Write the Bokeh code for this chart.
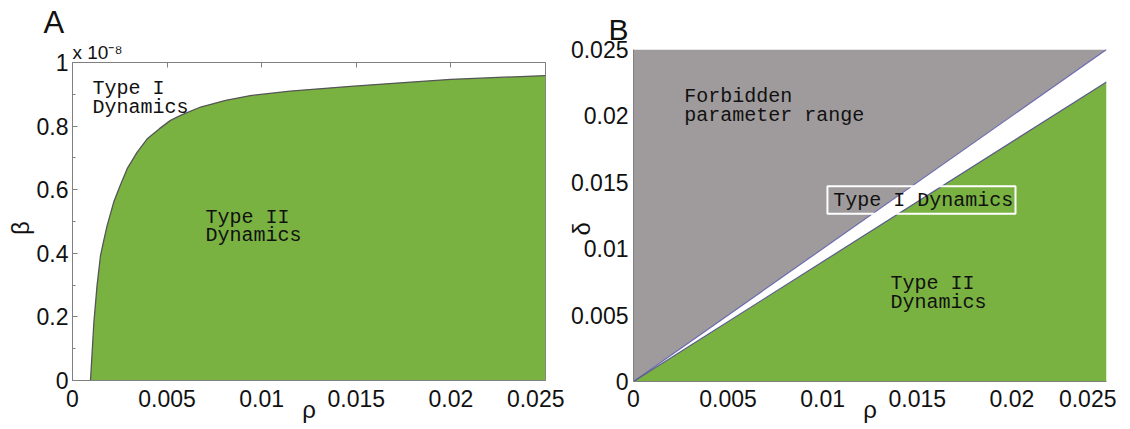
from bokeh.plotting import figure
from bokeh.layouts import row, column
from bokeh.models import (Range1d, FixedTicker, LinearAxis, Label, BoxAnnotation,
                          CustomJSTickFormatter, Title)
from bokeh.embed import file_html
from bokeh.resources import INLINE

# ---- data ----
rho_a = [0.00095, 0.00105, 0.00113, 0.0013, 0.00148, 0.00165, 0.00183, 0.00218, 0.0025,
         0.00289, 0.00342, 0.00395, 0.0046, 0.00518, 0.0058, 0.00677, 0.0081, 0.0094,
         0.0115, 0.0147, 0.0175, 0.0200, 0.0225, 0.025]
beta_a = [0.0, 0.10, 0.183, 0.30, 0.393, 0.44, 0.487, 0.561, 0.61,
          0.666, 0.718, 0.760, 0.792, 0.818, 0.836, 0.860, 0.881, 0.896,
          0.910, 0.925, 0.937, 0.947, 0.953, 0.959]
rho_ticks = [0, 0.005, 0.01, 0.015, 0.02, 0.025]
beta_ticks = [0, 0.2, 0.4, 0.6, 0.8, 1]
beta_minor = [0.1, 0.3, 0.5, 0.7, 0.9]
delta_ticks = [0, 0.005, 0.01, 0.015, 0.02, 0.025]
rho_b = [0, 0.025]
delta_upper = [0, 0.025]      # forbidden boundary
delta_lower = [0, 0.02255]    # type I / type II boundary

RHO_MAX = 0.025
BETA_MAX = 1.0
DELTA_MAX = 0.025

GREEN = "#7ab242"
GREY = "#9f9b9c"
AXIS = "#808080"
TICK_FONT = "Liberation Sans"
MONO = "Liberation Mono"
NBSP = "\u00a0"

fmt_code = "return String(Number(tick.toPrecision(6)))"


def style_axis(ax, size="23px"):
    ax.major_label_text_font = TICK_FONT
    ax.major_label_text_font_size = size
    ax.major_label_text_color = "#111111"
    ax.axis_line_color = AXIS
    ax.major_tick_line_color = AXIS
    ax.minor_tick_line_color = AXIS
    ax.major_tick_out = 0
    ax.minor_tick_out = 0
    ax.major_tick_in = 0
    ax.minor_tick_in = 0
    ax.axis_label_text_font = TICK_FONT
    ax.axis_label_text_font_size = "24px"
    ax.axis_label_text_font_style = "normal"
    ax.axis_label_text_color = "#111111"


def lbl(p, x, y, text, font=MONO, size="20px", align="left", baseline="middle", color="#111111"):
    p.add_layout(Label(x=x, y=y, text=text, text_font=font, text_font_size=size,
                       text_align=align, text_baseline=baseline, text_color=color))


def title(text, size, offset, standoff):
    return Title(text=text, text_font=TICK_FONT, text_font_size=size, text_font_style="normal",
                 text_color="#111111", align="left", offset=offset, standoff=standoff)


# ---------------- Panel A ----------------
pA = figure(frame_width=473, frame_height=318, output_backend="svg", toolbar_location=None,
            title=None, x_range=Range1d(0, RHO_MAX), y_range=Range1d(0, BETA_MAX),
            min_border_left=72, min_border_right=19, min_border_top=62, min_border_bottom=45)
pA.xgrid.grid_line_color = None
pA.ygrid.grid_line_color = None
pA.outline_line_color = AXIS
pA.background_fill_color = "white"
pA.border_fill_color = "white"

pA.varea(x=rho_a, y1=0, y2=beta_a, fill_color=GREEN)
pA.line(rho_a, beta_a, line_color="#555555", line_width=1.3)

style_axis(pA.xaxis[0])
pA.xaxis[0].ticker = FixedTicker(ticks=rho_ticks)
pA.xaxis[0].formatter = CustomJSTickFormatter(code=fmt_code)
pA.xaxis[0].major_label_standoff = 9
pA.xaxis[0].axis_label = "ρ"
pA.xaxis[0].axis_label_standoff = -14

style_axis(pA.yaxis[0])
pA.yaxis[0].ticker = FixedTicker(ticks=beta_ticks, minor_ticks=beta_minor)
pA.yaxis[0].formatter = CustomJSTickFormatter(code=fmt_code)
pA.yaxis[0].major_tick_in = 5
pA.yaxis[0].minor_tick_in = 3
pA.yaxis[0].major_label_standoff = 4
pA.yaxis[0].axis_label = "β" + NBSP * 2
pA.yaxis[0].axis_label_standoff = 0

top = LinearAxis(ticker=FixedTicker(ticks=rho_ticks))
style_axis(top)
top.axis_line_color = None
top.major_tick_in = 5
top.major_label_text_color = None
top.major_label_text_font_size = "1px"
top.major_label_standoff = 0
pA.add_layout(top, "above")
pA.add_layout(title("x 10⁻⁸", "19px", 0, 0), "above")
pA.add_layout(title("A", "31px", -29, 0), "above")

lbl(pA, 0.00106, 0.918, "Type I")
lbl(pA, 0.00106, 0.858, "Dynamics")
lbl(pA, 0.00703, 0.513, "Type II")
lbl(pA, 0.00703, 0.456, "Dynamics")

# ---------------- Panel B ----------------
pB = figure(frame_width=473, frame_height=332, output_backend="svg", toolbar_location=None,
            title=None, x_range=Range1d(0, RHO_MAX), y_range=Range1d(0, DELTA_MAX),
            min_border_left=68, min_border_right=10, min_border_top=49, min_border_bottom=44)
pB.xgrid.grid_line_color = None
pB.ygrid.grid_line_color = None
pB.outline_line_color = None
pB.background_fill_color = "white"
pB.border_fill_color = "white"

pB.varea(x=rho_b, y1=delta_upper, y2=DELTA_MAX, fill_color=GREY)
pB.varea(x=rho_b, y1=0, y2=delta_lower, fill_color=GREEN)
pB.line(rho_b, delta_upper, line_color="#6c6cb0", line_width=1.2)
pB.line(rho_b, delta_lower, line_color="#5a5a8a", line_width=1.2)

style_axis(pB.xaxis[0])
pB.xaxis[0].ticker = FixedTicker(ticks=rho_ticks)
pB.xaxis[0].formatter = CustomJSTickFormatter(code=fmt_code)
pB.xaxis[0].major_label_standoff = 8
pB.xaxis[0].axis_label = "ρ"
pB.xaxis[0].axis_label_standoff = -14

style_axis(pB.yaxis[0])
pB.yaxis[0].ticker = FixedTicker(ticks=delta_ticks)
pB.yaxis[0].formatter = CustomJSTickFormatter(code=fmt_code)
pB.yaxis[0].major_label_standoff = 5
pB.yaxis[0].axis_label = "δ" + NBSP * 4
pB.yaxis[0].axis_label_standoff = -27

pB.add_layout(title("B", "30px", -25, 8), "above")

lbl(pB, 0.00268, 0.02148, "Forbidden")
lbl(pB, 0.00268, 0.02003, "parameter range")
pB.add_layout(BoxAnnotation(left=0.01025, right=0.02019, bottom=0.01263, top=0.01471,
                            fill_color=None, line_color="white", line_alpha=1.0, line_width=2))
lbl(pB, 0.01056, 0.01363, "Type I Dynamics")
lbl(pB, 0.01358, 0.00738, "Type II")
lbl(pB, 0.01358, 0.00595, "Dynamics")

p = row(column(pA), column(pB))
open("out.html", "w").write(file_html(p, INLINE))
